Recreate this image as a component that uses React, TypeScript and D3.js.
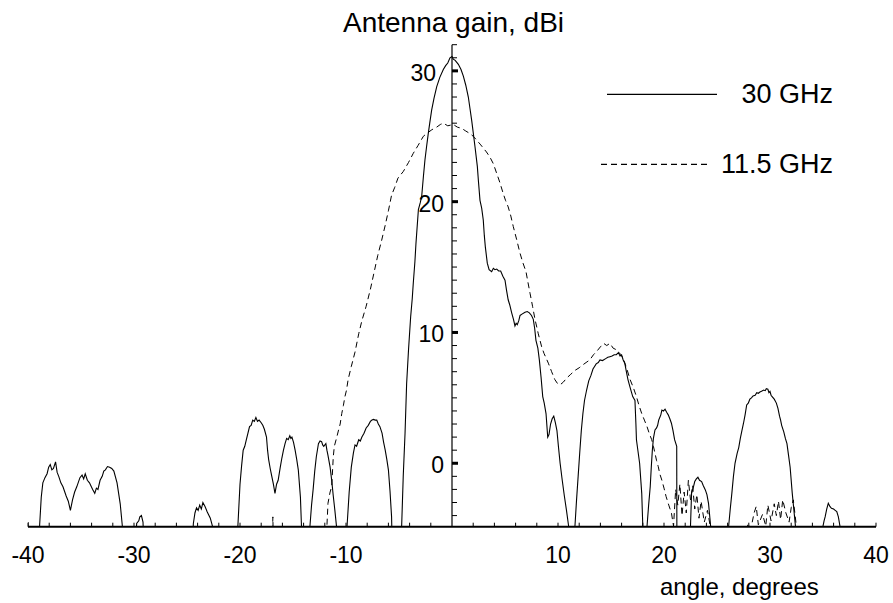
import React, { useEffect, useRef } from 'react';
import * as d3 from 'd3';

// [angle in degrees, gain in dBi]; -8 means "below the plotted range"
const gain30GHz: [number, number][] = [
  [-40, -4.5], [-39.8, -8], [-39.0, -8], [-38.9, -4.7], [-38.75, -2.6], [-38.6, -1.5], [-38.4, -1.1],
  [-38.2, -0.8], [-38.05, -0.3], [-37.9, -0.1], [-37.75, -0.5], [-37.6, -0.4], [-37.4, 0.1],
  [-37.25, -0.7], [-37.1, -1.0], [-36.9, -1.5], [-36.7, -1.8], [-36.4, -2.5], [-36.2, -2.9],
  [-36.0, -3.6], [-35.8, -2.8], [-35.6, -2.2], [-35.4, -1.8], [-35.1, -1.1], [-34.9, -0.9],
  [-34.75, -1.2], [-34.6, -0.8], [-34.4, -1.3], [-34.2, -1.5], [-33.9, -2.0], [-33.7, -2.3],
  [-33.55, -1.9], [-33.4, -2.0], [-33.2, -1.3], [-33.0, -1.0], [-32.85, -0.6], [-32.7, -0.5],
  [-32.5, -0.25], [-32.3, -0.3], [-32.1, -0.4], [-31.9, -0.6], [-31.6, -1.5], [-31.3, -3.1],
  [-31.1, -4.8], [-31.0, -8],
  [-29.9, -8], [-29.75, -4.6], [-29.55, -4.4], [-29.45, -4.1], [-29.3, -4.0], [-29.15, -4.5], [-29.0, -8],
  [-24.6, -8], [-24.4, -4.6], [-24.25, -3.8], [-24.1, -3.4], [-23.95, -3.6], [-23.8, -3.2],
  [-23.65, -3.5], [-23.5, -3.0], [-23.3, -3.3], [-23.1, -3.7], [-22.8, -4.2], [-22.6, -4.8], [-22.5, -8],
  [-20.3, -8], [-20.2, -4.8], [-20.0, -1.6], [-19.85, -0.2], [-19.7, 1.0], [-19.55, 1.3],
  [-19.4, 1.8], [-19.25, 2.3], [-19.1, 2.8], [-18.95, 2.9], [-18.8, 3.3], [-18.65, 3.2],
  [-18.5, 3.5], [-18.35, 3.2], [-18.2, 3.3], [-18.0, 3.1], [-17.85, 2.9], [-17.7, 2.6],
  [-17.5, 2.0], [-17.4, 1.0], [-17.3, 0.3], [-17.15, -0.4], [-17.0, -1.0], [-16.85, -1.6],
  [-16.7, -2.3], [-16.55, -1.6], [-16.4, -1.3], [-16.2, -0.3], [-16.05, 0.4], [-15.9, 1.0],
  [-15.75, 1.5], [-15.6, 1.9], [-15.45, 1.8], [-15.3, 2.1], [-15.2, 1.9], [-15.1, 2.0],
  [-14.95, 1.6], [-14.8, 1.0], [-14.65, 0.3], [-14.5, -0.5], [-14.3, -2.6], [-14.2, -4.8], [-14.1, -8],
  [-13.5, -8], [-13.4, -4.8], [-13.25, -3.2], [-13.1, -2.0], [-12.95, -0.6], [-12.8, 0.5],
  [-12.6, 1.5], [-12.45, 1.7], [-12.3, 1.65], [-12.2, 1.4], [-12.1, 1.3], [-11.9, 1.5],
  [-11.8, 1.0], [-11.7, 0.6], [-11.5, -0.3], [-11.35, -1.3], [-11.2, -2.5], [-11.05, -3.6],
  [-10.9, -4.8], [-10.8, -8],
  [-10.0, -8], [-9.9, -4.8], [-9.7, -2.2], [-9.5, -0.3], [-9.3, 0.8], [-9.15, 1.4], [-9.0, 1.3],
  [-8.8, 1.8], [-8.65, 1.7], [-8.5, 2.0], [-8.3, 2.3], [-8.1, 2.7], [-7.9, 2.9], [-7.7, 3.2],
  [-7.55, 3.3], [-7.4, 3.35], [-7.25, 3.3], [-7.1, 3.3], [-6.95, 3.0], [-6.8, 2.8], [-6.6, 2.3],
  [-6.45, 1.6], [-6.3, 1.0], [-6.15, 0.3], [-6.0, -0.5], [-5.85, -2.1], [-5.7, -4.1], [-5.6, -8],
  [-4.8, -8], [-4.75, -4.8], [-4.6, -1.0], [-4.43, 2.3], [-4.28, 6.1], [-4.1, 8.7], [-3.9, 11.2],
  [-3.75, 12.6], [-3.65, 13.8], [-3.5, 15.4], [-3.4, 16.8], [-3.17, 19.4], [-3.0, 19.9],
  [-2.86, 20.4], [-2.7, 21.9], [-2.55, 23.2], [-2.4, 24.2], [-2.24, 25.2], [-2.1, 26.0],
  [-1.92, 27.0], [-1.7, 27.9], [-1.44, 28.8], [-1.15, 29.5], [-0.82, 30.1], [-0.6, 30.4],
  [-0.4, 30.6], [-0.19, 31.0], [0.0, 31.1], [0.12, 30.9], [0.3, 30.8], [0.6, 30.5],
  [0.85, 30.1], [1.07, 29.6], [1.3, 28.9], [1.54, 28.0], [1.7, 27.1], [1.86, 26.2],
  [2.0, 25.3], [2.17, 24.2], [2.39, 22.7], [2.5, 21.5], [2.64, 20.1], [2.8, 19.5],
  [2.95, 18.6], [3.05, 17.4], [3.15, 16.5], [3.33, 15.3], [3.5, 14.8], [3.74, 14.65],
  [3.9, 14.9], [4.05, 14.8], [4.22, 14.85], [4.4, 14.7], [4.59, 14.7], [4.8, 14.3],
  [5.0, 14.0], [5.15, 13.2], [5.3, 12.5], [5.45, 12.1], [5.63, 11.5], [5.8, 11.0],
  [5.94, 10.5], [6.05, 10.7], [6.16, 10.6], [6.3, 10.9], [6.42, 11.3], [6.6, 11.4],
  [6.89, 11.55], [7.1, 11.6], [7.3, 11.5], [7.5, 11.3], [7.67, 11.0], [7.8, 10.3],
  [7.92, 9.4], [8.1, 8.8], [8.24, 7.9], [8.4, 6.6], [8.56, 5.1], [8.7, 4.6], [8.87, 3.8],
  [9.03, 2.0], [9.15, 2.2], [9.3, 3.0], [9.45, 3.4], [9.6, 3.6], [9.75, 3.1], [9.9, 2.5],
  [10.05, 1.2], [10.2, 0.0], [10.4, -1.3], [10.6, -2.5], [10.8, -3.6], [11.0, -4.8], [11.2, -8],
  [11.4, -8], [11.6, -4.8], [11.75, -2.8], [11.9, -1.0], [12.05, 0.8], [12.2, 2.5],
  [12.35, 3.8], [12.5, 4.8], [12.7, 5.6], [12.9, 6.3], [13.1, 6.7], [13.3, 7.2], [13.45, 7.4],
  [13.6, 7.6], [13.8, 7.7], [13.96, 7.9], [14.2, 7.85], [14.5, 8.0], [14.7, 8.1], [14.9, 8.15],
  [15.1, 8.2], [15.3, 8.3], [15.5, 8.3], [15.7, 8.46], [15.85, 8.2], [16.0, 8.28], [16.15, 7.9],
  [16.3, 7.65], [16.45, 7.0], [16.6, 6.4], [16.8, 5.8], [17.05, 5.1], [17.26, 4.8], [17.35, 3.0],
  [17.4, 1.8], [17.55, 0.9], [17.7, 0.0], [17.9, -2.3], [18.0, -4.8], [18.05, -8],
  [18.3, -8], [18.4, -4.8], [18.55, -3.2], [18.7, -1.8], [18.8, -0.3], [18.9, 1.0],
  [19.0, 1.9], [19.15, 2.55], [19.3, 2.7], [19.4, 2.9], [19.5, 3.3], [19.6, 3.5], [19.7, 3.7],
  [19.8, 4.07], [19.95, 4.0], [20.1, 4.13], [20.25, 3.9], [20.4, 3.7], [20.55, 3.4],
  [20.7, 3.06], [20.85, 2.5], [21.0, 1.8], [21.2, 1.3], [21.22, -8],
  [22.4, -8], [22.5, -4.8], [22.6, -2.3], [22.75, -1.9], [22.9, -1.4], [23.05, -1.2],
  [23.2, -1.07], [23.35, -1.3], [23.55, -1.4], [23.7, -1.7], [23.9, -2.04], [24.05, -2.4],
  [24.2, -3.06], [24.4, -4.8], [24.5, -8],
  [26.0, -8], [26.1, -4.8], [26.25, -3.5], [26.4, -2.3], [26.55, -1.0], [26.7, 0.0],
  [26.9, 0.76], [27.05, 1.2], [27.2, 1.9], [27.35, 2.5], [27.5, 3.06], [27.65, 3.7],
  [27.8, 4.46], [27.95, 4.6], [28.1, 4.9], [28.25, 5.0], [28.4, 5.15], [28.6, 5.2],
  [28.75, 5.4], [28.9, 5.35], [29.05, 5.45], [29.2, 5.5], [29.4, 5.6], [29.55, 5.55],
  [29.65, 5.7], [29.8, 5.66], [29.9, 5.4], [30.0, 5.5], [30.1, 5.2], [30.2, 5.1],
  [30.4, 4.9], [30.6, 4.6], [30.75, 4.2], [30.9, 3.6], [31.0, 3.3], [31.1, 2.9],
  [31.3, 2.4], [31.45, 1.9], [31.6, 1.5], [31.75, 0.6], [31.9, -0.3], [32.1, -2.3],
  [32.4, -4.8], [32.5, -8],
  [34.9, -8], [35.0, -4.8], [35.1, -4.4], [35.2, -4.1], [35.35, -3.5], [35.5, -3.06],
  [35.65, -3.3], [35.8, -3.44], [36.0, -3.5], [36.15, -3.6], [36.3, -3.7], [36.45, -4.1],
  [36.6, -4.8], [36.7, -8], [40, -8],
];

const gain11GHz: [number, number][] = [
  [-40, -8], [-17.0, -8], [-16.9, -4.1], [-16.8, -8],
  [-12.0, -8], [-11.8, -4.8], [-11.7, -3.06], [-11.5, -2.2], [-11.35, -1.8], [-11.2, 0.5],
  [-11.1, 1.3], [-10.9, 1.9], [-10.7, 2.55], [-10.55, 3.0], [-10.4, 3.8], [-10.25, 4.4],
  [-10.1, 5.1], [-9.95, 5.6], [-9.8, 6.4], [-9.5, 7.4], [-9.15, 8.5], [-8.8, 9.9],
  [-8.5, 10.9], [-8.1, 12.0], [-7.7, 13.3], [-7.35, 14.6], [-7.0, 15.9], [-6.65, 17.0],
  [-6.3, 18.2], [-6.0, 19.3], [-5.7, 20.5], [-5.4, 21.1], [-5.1, 21.8], [-4.6, 22.3],
  [-4.1, 23.0], [-3.65, 23.7], [-3.2, 24.3], [-2.7, 25.0], [-2.4, 25.2], [-1.9, 25.5],
  [-1.44, 25.7], [-1.1, 25.9], [-0.82, 26.0], [-0.4, 25.8], [0.12, 25.9], [0.5, 25.7],
  [0.92, 25.6], [1.3, 25.4], [1.7, 25.2], [2.0, 25.0], [2.33, 24.7], [2.65, 24.4],
  [2.95, 24.1], [3.25, 23.8], [3.58, 23.4], [3.9, 22.9], [4.2, 22.2], [4.5, 21.5],
  [4.84, 20.6], [5.05, 20.1], [5.3, 19.6], [5.55, 18.9], [5.78, 18.1], [6.1, 17.1],
  [6.42, 16.05], [6.7, 15.3], [6.98, 14.65], [7.15, 13.9], [7.36, 13.0], [7.6, 12.0],
  [7.83, 11.0], [8.0, 10.4], [8.14, 9.9], [8.3, 9.4], [8.46, 8.9], [8.68, 8.4],
  [8.9, 8.0], [9.09, 7.65], [9.4, 7.0], [9.7, 6.4], [9.95, 6.1], [10.2, 6.0], [10.5, 6.2],
  [10.8, 6.5], [11.2, 6.8], [11.6, 7.1], [12.0, 7.3], [12.3, 7.5], [12.65, 7.7], [13.0, 7.9],
  [13.35, 8.3], [13.7, 8.6], [14.0, 8.9], [14.3, 9.17], [14.6, 9.0], [14.9, 9.17],
  [15.2, 8.8], [15.45, 8.7], [15.7, 8.5], [15.95, 8.3], [16.2, 7.9], [16.5, 7.2],
  [16.8, 6.4], [17.1, 5.8], [17.4, 5.1], [17.65, 4.4], [17.9, 3.8], [18.15, 3.3],
  [18.4, 2.8], [18.6, 2.3], [18.84, 1.8], [19.0, 1.3], [19.15, 0.76], [19.3, 0.2],
  [19.46, -0.26], [19.6, -0.8], [19.8, -1.3], [20.0, -1.9], [20.2, -2.55], [20.45, -3.2],
  [20.7, -3.8], [20.9, -4.8], [21.1, -2.0], [21.3, -3.2], [21.5, -1.6], [21.7, -4.0],
  [21.9, -2.2], [22.1, -3.8], [22.3, -1.3], [22.5, -2.8], [22.7, -1.7], [22.9, -3.5],
  [23.1, -2.4], [23.3, -4.2], [23.5, -2.9], [23.8, -4.5], [24.1, -3.6], [24.4, -5.0], [24.6, -8],
  [27.7, -8], [27.9, -4.6], [28.2, -5.0], [28.5, -3.8], [28.7, -3.3], [28.9, -4.7],
  [29.3, -3.9], [29.6, -4.8], [29.8, -3.2], [30.1, -4.4], [30.4, -3.1], [30.6, -4.0],
  [30.8, -2.9], [31.0, -4.3], [31.2, -2.8], [31.5, -3.8], [31.8, -4.5], [32.0, -3.4],
  [32.2, -2.8], [32.5, -4.9], [32.8, -8], [40, -8],
];

const xTickLabels = [-40, -30, -20, -10, 10, 20, 30, 40];
const yTickLabels = [0, 10, 20, 30];
const legendLabels = ['30 GHz', '11.5 GHz'];

function App() {
  const svgRef = useRef<SVGSVGElement>(null);

  useEffect(() => {
    const width = 893;
    const height = 603;
    const font = '"Liberation Sans", Arial, sans-serif';

    const x = d3.scaleLinear().domain([-40, 40]).range([28, 876]);
    const y = d3.scaleLinear().domain([-4.85, 32]).range([526.7, 44.7]);

    const svg = d3.select(svgRef.current)
      .attr('width', width)
      .attr('height', height);
    svg.selectAll('*').remove();

    svg.append('defs').append('clipPath')
      .attr('id', 'plot-clip')
      .append('rect')
      .attr('x', x(-40))
      .attr('y', 0)
      .attr('width', x(40) - x(-40))
      .attr('height', y(-4.85));

    const line = d3.line<[number, number]>()
      .x((d) => x(d[0]))
      .y((d) => y(d[1]));

    const plot = svg.append('g').attr('clip-path', 'url(#plot-clip)');

    plot.append('path')
      .datum(gain11GHz)
      .attr('d', line)
      .attr('fill', 'none')
      .attr('stroke', '#000')
      .attr('stroke-width', 1)
      .attr('stroke-dasharray', '6,4');

    plot.append('path')
      .datum(gain30GHz)
      .attr('d', line)
      .attr('fill', 'none')
      .attr('stroke', '#000')
      .attr('stroke-width', 1.1);

    // x axis
    svg.append('line')
      .attr('x1', x(-40)).attr('x2', x(40))
      .attr('y1', y(-4.85)).attr('y2', y(-4.85))
      .attr('stroke', '#000')
      .attr('stroke-width', 2);

    svg.append('g')
      .selectAll('line')
      .data(d3.range(-40, 41, 2).filter((v) => v !== 0))
      .enter().append('line')
      .attr('x1', (d) => x(d)).attr('x2', (d) => x(d))
      .attr('y1', y(-4.85)).attr('y2', y(-4.85) - 4)
      .attr('stroke', '#000')
      .attr('stroke-width', 1);

    svg.append('g')
      .selectAll('text')
      .data(xTickLabels)
      .enter().append('text')
      .attr('x', (d) => x(d))
      .attr('y', 563)
      .attr('text-anchor', 'middle')
      .style('font-family', font)
      .style('font-size', '23px')
      .text((d) => String(d));

    svg.append('text')
      .attr('x', 660)
      .attr('y', 595)
      .style('font-family', font)
      .style('font-size', '24px')
      .text('angle, degrees');

    // y axis
    svg.append('line')
      .attr('x1', x(0)).attr('x2', x(0))
      .attr('y1', y(32)).attr('y2', y(-4.85))
      .attr('stroke', '#000')
      .attr('stroke-width', 1.2);

    svg.append('g')
      .selectAll('line')
      .data(d3.range(-4, 33, 1))
      .enter().append('line')
      .attr('x1', x(0)).attr('x2', x(0) + 5)
      .attr('y1', (d) => y(d)).attr('y2', (d) => y(d))
      .attr('stroke', '#000')
      .attr('stroke-width', 1);

    svg.append('g')
      .selectAll('rect')
      .data(yTickLabels)
      .enter().append('rect')
      .attr('x', x(0))
      .attr('y', (d) => y(d) - 1.5)
      .attr('width', 6)
      .attr('height', 3)
      .attr('fill', '#000');

    svg.append('g')
      .selectAll('text')
      .data(yTickLabels)
      .enter().append('text')
      .attr('x', (d) => (d === 30 ? 436 : 444))
      .attr('y', (d) => y(d) + 10)
      .attr('text-anchor', 'end')
      .style('font-family', font)
      .style('font-size', '23px')
      .text((d) => String(d));

    svg.append('text')
      .attr('x', 343)
      .attr('y', 32)
      .style('font-family', font)
      .style('font-size', '28px')
      .text('Antenna gain, dBi');

    // legend
    const legend = svg.selectAll('.legend')
      .data(legendLabels)
      .enter().append('g')
      .attr('class', 'legend')
      .attr('transform', (d, i) => `translate(0, ${i * 70})`);

    legend.append('line')
      .attr('x1', (d, i) => (i === 0 ? 607 : 601))
      .attr('x2', (d, i) => (i === 0 ? 717 : 710))
      .attr('y1', 94.3).attr('y2', 94.3)
      .attr('stroke', '#000')
      .attr('stroke-width', 1.2)
      .attr('stroke-dasharray', (d, i) => (i === 0 ? null : '6,4'));

    legend.append('text')
      .attr('x', 833)
      .attr('y', 103)
      .attr('text-anchor', 'end')
      .style('font-family', font)
      .style('font-size', '27px')
      .text((d) => d);
  }, []);

  return (
    <svg ref={svgRef} style={{ position: 'absolute', left: 0, top: 0, background: '#fff' }}></svg>
  );
}

export default App;
